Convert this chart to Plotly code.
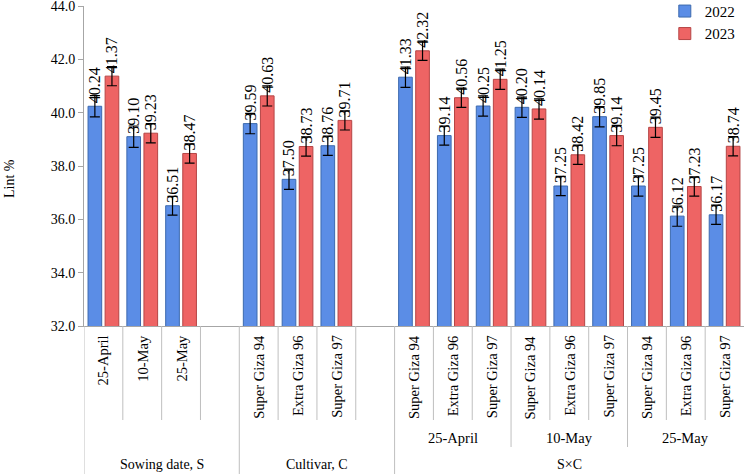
import plotly.graph_objects as go

# ---- data ----
categories = ["25-April", "10-May", "25-May", "",
              "Super Giza 94", "Extra Giza 96", "Super Giza 97", "",
              "Super Giza 94", "Extra Giza 96", "Super Giza 97",
              "Super Giza 94", "Extra Giza 96", "Super Giza 97",
              "Super Giza 94", "Extra Giza 96", "Super Giza 97"]
lint_2022 = [40.24, 39.10, 36.51, None,
             39.59, 37.50, 38.76, None,
             41.33, 39.14, 40.25, 40.20, 37.25, 39.85, 37.25, 36.12, 36.17]
lint_2023 = [41.37, 39.23, 38.47, None,
             40.63, 38.73, 39.71, None,
             42.32, 40.56, 41.25, 40.14, 38.42, 39.14, 39.45, 37.23, 38.74]
err_2022 = [0.40, 0.40, 0.35, None,
            0.38, 0.38, 0.36, None,
            0.38, 0.36, 0.38, 0.38, 0.36, 0.38, 0.38, 0.38, 0.36]
err_2023 = [0.36, 0.36, 0.36, None,
            0.38, 0.36, 0.36, None,
            0.36, 0.36, 0.38, 0.38, 0.36, 0.38, 0.38, 0.36, 0.36]
sub_groups = [("25-April", 8, 10), ("10-May", 11, 13), ("25-May", 14, 16)]
main_groups = [("Sowing date, S", -0.5, 3.5), ("Cultivar, C", 3.5, 7.5), ("S\u00d7C", 7.5, 16.5)]
y_ticks = [32.0, 34.0, 36.0, 38.0, 40.0, 42.0, 44.0]

FONT = "Liberation Serif, 'Times New Roman', 'DejaVu Serif', serif"
x_idx = list(range(len(categories)))

def fmt(vals):
    return [("" if v is None else f"{v:.2f}") for v in vals]

fig = go.Figure()
fig.add_trace(go.Bar(
    x=x_idx, y=lint_2022, name="2022",
    marker=dict(color="#5B8DE6", line=dict(color="#3D6AAE", width=1)),
    error_y=dict(type="data", array=err_2022, color="black", thickness=1.2, width=5),
    text=fmt(lint_2022), textposition="outside", textangle=-90,
    constraintext="none", cliponaxis=False,
    textfont=dict(family=FONT, size=16, color="black"),
))
fig.add_trace(go.Bar(
    x=x_idx, y=lint_2023, name="2023",
    marker=dict(color="#EE6464", line=dict(color="#B54545", width=1)),
    error_y=dict(type="data", array=err_2023, color="black", thickness=1.2, width=5),
    text=fmt(lint_2023), textposition="outside", textangle=-90,
    constraintext="none", cliponaxis=False,
    textfont=dict(family=FONT, size=16, color="black"),
))

PLOT_H = 320.0
def py(Y):
    return (326.0 - Y) / PLOT_H

shapes = []
annotations = []
grey = "#BFBFBF"

sub_bounds = [10.5, 13.5]
group_bounds = [-0.5, 3.5, 7.5]
for k in range(len(categories) - 1):
    b = k + 0.5
    if b in group_bounds:
        continue
    yb = 447 if b in sub_bounds else 420
    shapes.append(dict(type="line", xref="x", yref="paper", x0=b, x1=b,
                       y0=0, y1=py(yb), line=dict(color=grey, width=1)))
for b in group_bounds:
    shapes.append(dict(type="line", xref="x", yref="paper", x0=b, x1=b,
                       y0=0, y1=py(474), line=dict(color=grey, width=1)))

for i, c in enumerate(categories):
    if not c:
        continue
    annotations.append(dict(x=i, y=py(333), xref="x", yref="paper", text=c,
                            textangle=-90, showarrow=False, xanchor="center",
                            yanchor="top", font=dict(family=FONT, size=14.5, color="black")))
for name, a, b in sub_groups:
    annotations.append(dict(x=(a + b) / 2, y=py(438), xref="x", yref="paper", text=name,
                            showarrow=False, xanchor="center", yanchor="middle",
                            font=dict(family=FONT, size=14.5, color="black")))
for name, a, b in main_groups:
    annotations.append(dict(x=(a + b) / 2, y=py(464), xref="x", yref="paper", text=name,
                            showarrow=False, xanchor="center", yanchor="middle",
                            font=dict(family=FONT, size=14, color="black")))
annotations.append(dict(x=-(84 - 9) / 660.0, y=py(179), xref="paper", yref="paper",
                        text="Lint %", textangle=-90, showarrow=False,
                        xanchor="center", yanchor="middle",
                        font=dict(family=FONT, size=14, color="black")))

fig.update_layout(
    width=744, height=474,
    margin=dict(l=84, r=0, t=6, b=148, autoexpand=False),
    paper_bgcolor="white", plot_bgcolor="white",
    barmode="group", bargap=0.12, bargroupgap=0.2,
    font=dict(family=FONT, size=14, color="black"),
    showlegend=True,
    legend=dict(x=0.88, y=1.035, xanchor="left", yanchor="top",
                font=dict(family=FONT, size=15, color="black"),
                bgcolor="rgba(0,0,0,0)", itemwidth=30),
    shapes=shapes, annotations=annotations,
)
fig.update_xaxes(range=[-0.5, 16.5], showticklabels=False, ticks="",
                 showline=True, linecolor="#A6A6A6", linewidth=1,
                 showgrid=False, zeroline=False)
fig.update_yaxes(range=[32, 44], tickvals=y_ticks,
                 ticktext=[f"{v:.1f}" for v in y_ticks],
                 ticks="outside", ticklen=5, tickcolor="#A6A6A6",
                 ticklabeloverflow="allow",
                 showline=True, linecolor="#A6A6A6", linewidth=1,
                 showgrid=False, zeroline=False,
                 tickfont=dict(family=FONT, size=14, color="black"))

fig.write_html("out.html")
